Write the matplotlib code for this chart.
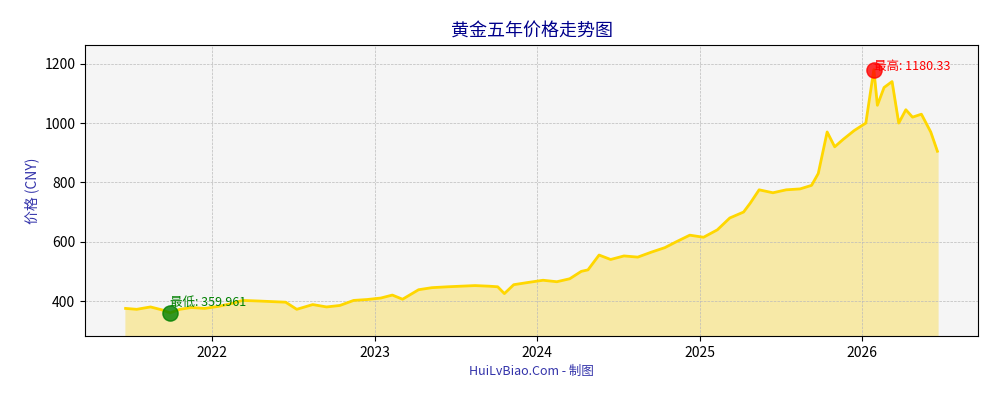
import matplotlib
matplotlib.use("Agg")
import matplotlib.pyplot as plt
import matplotlib.dates as mdates
import pandas as pd

plt.rcParams['font.family'] = ['Noto Sans CJK SC', 'DejaVu Sans']

dates = ["2021-06-20","2021-07-15","2021-08-15","2021-09-10","2021-09-28","2021-10-20","2021-11-15","2021-12-15",
 "2022-01-15","2022-02-15","2022-03-10","2022-04-15","2022-05-15","2022-06-15","2022-07-10","2022-08-15","2022-09-15","2022-10-15","2022-11-15","2022-12-15",
 "2023-01-15","2023-02-10","2023-03-05","2023-04-10","2023-05-10","2023-06-15","2023-07-15","2023-08-15","2023-09-15","2023-10-05","2023-10-20","2023-11-10","2023-12-10",
 "2024-01-15","2024-02-15","2024-03-15","2024-04-10","2024-04-25","2024-05-20","2024-06-15","2024-07-15","2024-08-15","2024-09-15","2024-10-15","2024-11-10","2024-12-10",
 "2025-01-10","2025-02-10","2025-03-10","2025-04-10","2025-04-25","2025-05-15","2025-06-15","2025-07-15","2025-08-15","2025-09-10","2025-09-25","2025-10-15","2025-11-01","2025-11-20","2025-12-15",
 "2026-01-10","2026-01-28","2026-02-05","2026-02-20","2026-03-10","2026-03-25","2026-04-10","2026-04-25","2026-05-15","2026-06-05","2026-06-20"]
prices = [375,372,380,370,359.961,372,378,375,
 382,392,402,400,398,396,372,388,380,385,402,405,
 410,420,406,438,445,448,450,452,450,448,425,455,462,
 470,465,475,500,505,555,540,552,548,565,580,600,622,
 615,640,680,700,730,775,765,775,778,790,830,970,920,945,975,
 1000,1180.33,1060,1120,1140,1000,1045,1020,1030,970,905]

d = pd.to_datetime(dates)
fig, ax = plt.subplots(figsize=(10, 4), dpi=100)
fig.subplots_adjust(left=0.085, right=0.978, top=0.888, bottom=0.16)
ax.set_facecolor('#f5f5f5')
ax.set_ylim(282, 1264)
ax.fill_between(d, prices, 282, color='#f7e9a7', alpha=1)
ax.plot(d, prices, color='#ffd700', lw=2)
imin = prices.index(min(prices)); imax = prices.index(max(prices))
ax.scatter([d[imin]], [prices[imin]], s=120, color='green', alpha=0.8, zorder=5)
ax.scatter([d[imax]], [prices[imax]], s=120, color='red', alpha=0.8, zorder=5)
ax.annotate(f"最低: {prices[imin]}", (d[imin], prices[imin]), xytext=(0, 5), textcoords='offset points', color='green', fontsize=9)
ax.annotate(f"最高: {prices[imax]}", (d[imax], prices[imax]), xytext=(0, 0), textcoords='offset points', color='red', fontsize=9)
ax.grid(True, ls='--', lw=0.5, color='#bbbbbb')
ax.xaxis.set_major_locator(mdates.YearLocator())
ax.xaxis.set_major_formatter(mdates.DateFormatter('%Y'))
ax.set_title("黄金五年价格走势图", color='darkblue', fontsize=13)
ax.set_ylabel("价格 (CNY)", color='#3333aa')
ax.set_xlabel("HuiLvBiao.Com - 制图", color='#3333aa', fontsize=9)
fig.savefig("out.png")
